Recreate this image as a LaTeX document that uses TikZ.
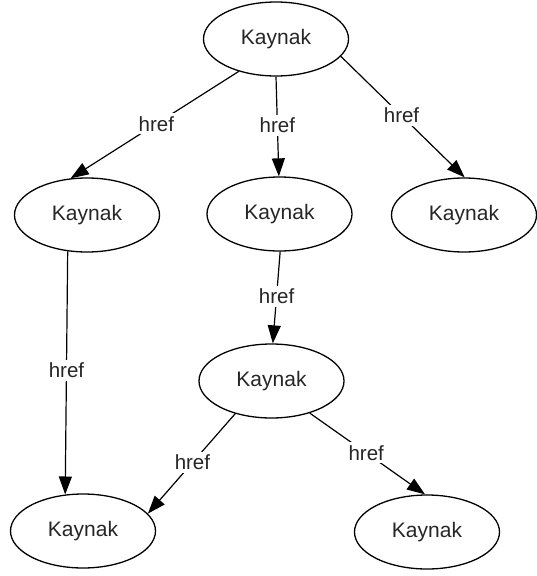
\documentclass[tikz,border=0pt]{standalone}
\usepackage{fontspec}
\setmainfont{Liberation Sans}
\usetikzlibrary{shapes.geometric,arrows.meta}
\begin{document}
\begin{tikzpicture}[x=1pt,y=-1pt,
  res/.style={ellipse,draw,line width=1.3pt,minimum width=145pt,minimum height=74pt,
    inner sep=0pt,text=black!85,font=\fontsize{21}{24}\selectfont},
  link/.style={draw,line width=1.2pt,-{Triangle[length=18pt,width=13pt]}},
  lbl/.style={fill=white,inner sep=3pt,text=black!85,font=\fontsize{20.5}{23}\selectfont,pos=0.49}]
\useasboundingbox[fill=white] (0,0) rectangle (536,576);
% resources
\node[res] (top) at (276,39)    {Kaynak};
\node[res] (lm)  at (87,215)    {Kaynak};
\node[res] (mid) at (279.5,214) {Kaynak};
\node[res] (rt)  at (464,215)   {Kaynak};
\node[res] (cl)  at (271.5,381) {Kaynak};
\node[res] (bl)  at (83,531)    {Kaynak};
\node[res] (br)  at (427,532)   {Kaynak};
% links
\draw[link] (top.221.5) -- node[lbl]{href} (lm.114.7);
\draw[link] (top.270)   -- node[lbl]{href} (mid.91);
\draw[link] (top.345)   -- node[lbl]{href} (rt.89);
\draw[link] (lm.242)    -- node[lbl]{href} (bl.116);
\draw[link] (mid.271)   -- node[lbl]{href} (cl.88.5);
\draw[link] (cl.222)    -- node[lbl]{href} (bl.15);
\draw[link] (cl.320.6)  -- node[lbl]{href} (br.93.6);
\end{tikzpicture}
\end{document}
